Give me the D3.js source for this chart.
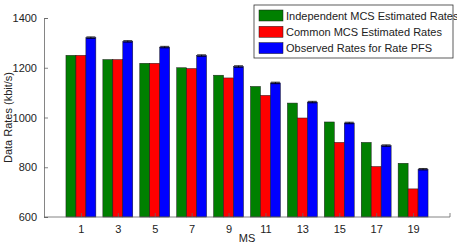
<!DOCTYPE html>
<html>
<head>
<meta charset="utf-8">
<script src="https://cdn.jsdelivr.net/npm/d3@7"></script>
<style>
  body { margin: 0; background: #fff; }
  text { font-family: "Liberation Sans", Arial, sans-serif; fill: #222; }
</style>
</head>
<body>
<svg id="chart" width="457" height="245"></svg>
<script>
// MS positions on the x axis
const msLabels = [1, 3, 5, 7, 9, 11, 13, 15, 17, 19];

const seriesNames = [
  'Independent MCS Estimated Rates',
  'Common MCS Estimated Rates',
  'Observed Rates for Rate PFS'
];

// values (kbit/s)
const independentRates = [1250, 1233, 1218, 1200, 1170, 1125, 1058, 982, 900, 816];
const commonRates      = [1250, 1233, 1218, 1197, 1159, 1089, 998, 900, 803, 713];
const observedRates    = [1321, 1306, 1283, 1249, 1205, 1139, 1062, 978, 887, 792];
const observedErr      = [3, 3, 3, 3, 3, 3, 3, 3, 3, 3];

const yTicks = [600, 800, 1000, 1200, 1400];
const colors = ['#008000', '#ff0000', '#0000ff'];

const svg = d3.select('#chart');
const margin = { left: 44, right: 7, top: 18, bottom: 28 };
const width = 457, height = 245;

const x = d3.scaleLinear().domain([-1, 21]).range([margin.left, width - margin.right]);
const y = d3.scaleLinear().domain([600, 1400]).range([height - margin.bottom, margin.top]);

const barW = x(0.54) - x(0);
const series = [independentRates, commonRates, observedRates];

// Bars
series.forEach((vals, si) => {
  svg.append('g')
    .selectAll('rect')
    .data(vals)
    .join('rect')
    .attr('x', (d, i) => x(msLabels[i]) + (si - 1.5) * barW)
    .attr('y', d => y(d))
    .attr('width', barW)
    .attr('height', d => y(600) - y(d))
    .attr('fill', colors[si])
    .attr('stroke', '#1a1a1a')
    .attr('stroke-width', 0.5);
});

// Error bars on observed rates
const eb = svg.append('g');
observedRates.forEach((v, i) => {
  const cx = x(msLabels[i]) + barW;
  const e = observedErr[i];
  eb.append('line')
    .attr('x1', cx).attr('x2', cx)
    .attr('y1', y(v - e)).attr('y2', y(v + e))
    .attr('stroke', '#000').attr('stroke-width', 0.8);
  [v - e, v + e].forEach(val => {
    eb.append('line')
      .attr('x1', cx - barW / 2 + 0.5).attr('x2', cx + barW / 2 - 0.5)
      .attr('y1', y(val)).attr('y2', y(val))
      .attr('stroke', '#000').attr('stroke-width', 0.8);
  });
});

// Axes
const axisColor = '#666';
const yAxis = d3.axisLeft(y).tickValues(yTicks).tickSize(-4).tickPadding(7).tickFormat(d3.format('d'));
const yg = svg.append('g')
  .attr('transform', `translate(${x(-1)},0)`)
  .call(yAxis);

const xAxis = d3.axisBottom(x).tickValues(msLabels).tickSize(-4).tickPadding(8);
const xg = svg.append('g')
  .attr('transform', `translate(0,${y(600)})`)
  .call(xAxis);

[yg, xg].forEach(g => {
  g.select('.domain').attr('stroke', axisColor).attr('stroke-width', 0.8);
  g.selectAll('.tick line').attr('stroke', axisColor).attr('stroke-width', 0.8);
  g.selectAll('.tick text').style('font-size', '11px').attr('fill', '#222')
    .style('font-family', '"Liberation Sans", Arial, sans-serif');
});
xg.select('.domain').attr('d', `M${x(-1)},0H${x(21)}`);
// small tick at the right end
svg.append('line')
  .attr('x1', x(21)).attr('x2', x(21))
  .attr('y1', y(600)).attr('y2', y(600) - 4)
  .attr('stroke', axisColor).attr('stroke-width', 0.8);

// Axis labels
svg.append('text')
  .attr('x', (x(-1) + x(21)) / 2)
  .attr('y', 242)
  .attr('text-anchor', 'middle')
  .style('font-size', '11px')
  .text('MS');

svg.append('text')
  .attr('transform', `translate(12,${y(1000)}) rotate(-90)`)
  .attr('text-anchor', 'middle')
  .style('font-size', '11px')
  .text('Data Rates (kbit/s)');

// Legend
const lg = svg.append('g').attr('transform', 'translate(254,5)');
lg.append('rect')
  .attr('width', 199).attr('height', 53)
  .attr('fill', '#fff').attr('stroke', '#333').attr('stroke-width', 0.8);
seriesNames.forEach((name, i) => {
  const row = lg.append('g').attr('transform', `translate(0,${10.5 + i * 16.3})`);
  row.append('rect')
    .attr('x', 5).attr('y', -5.5)
    .attr('width', 24).attr('height', 11)
    .attr('fill', colors[i]).attr('stroke', '#1a1a1a').attr('stroke-width', 0.5);
  row.append('text')
    .attr('x', 32).attr('y', 4)
    .style('font-size', '11px')
    .text(name);
});
</script>
</body>
</html>
